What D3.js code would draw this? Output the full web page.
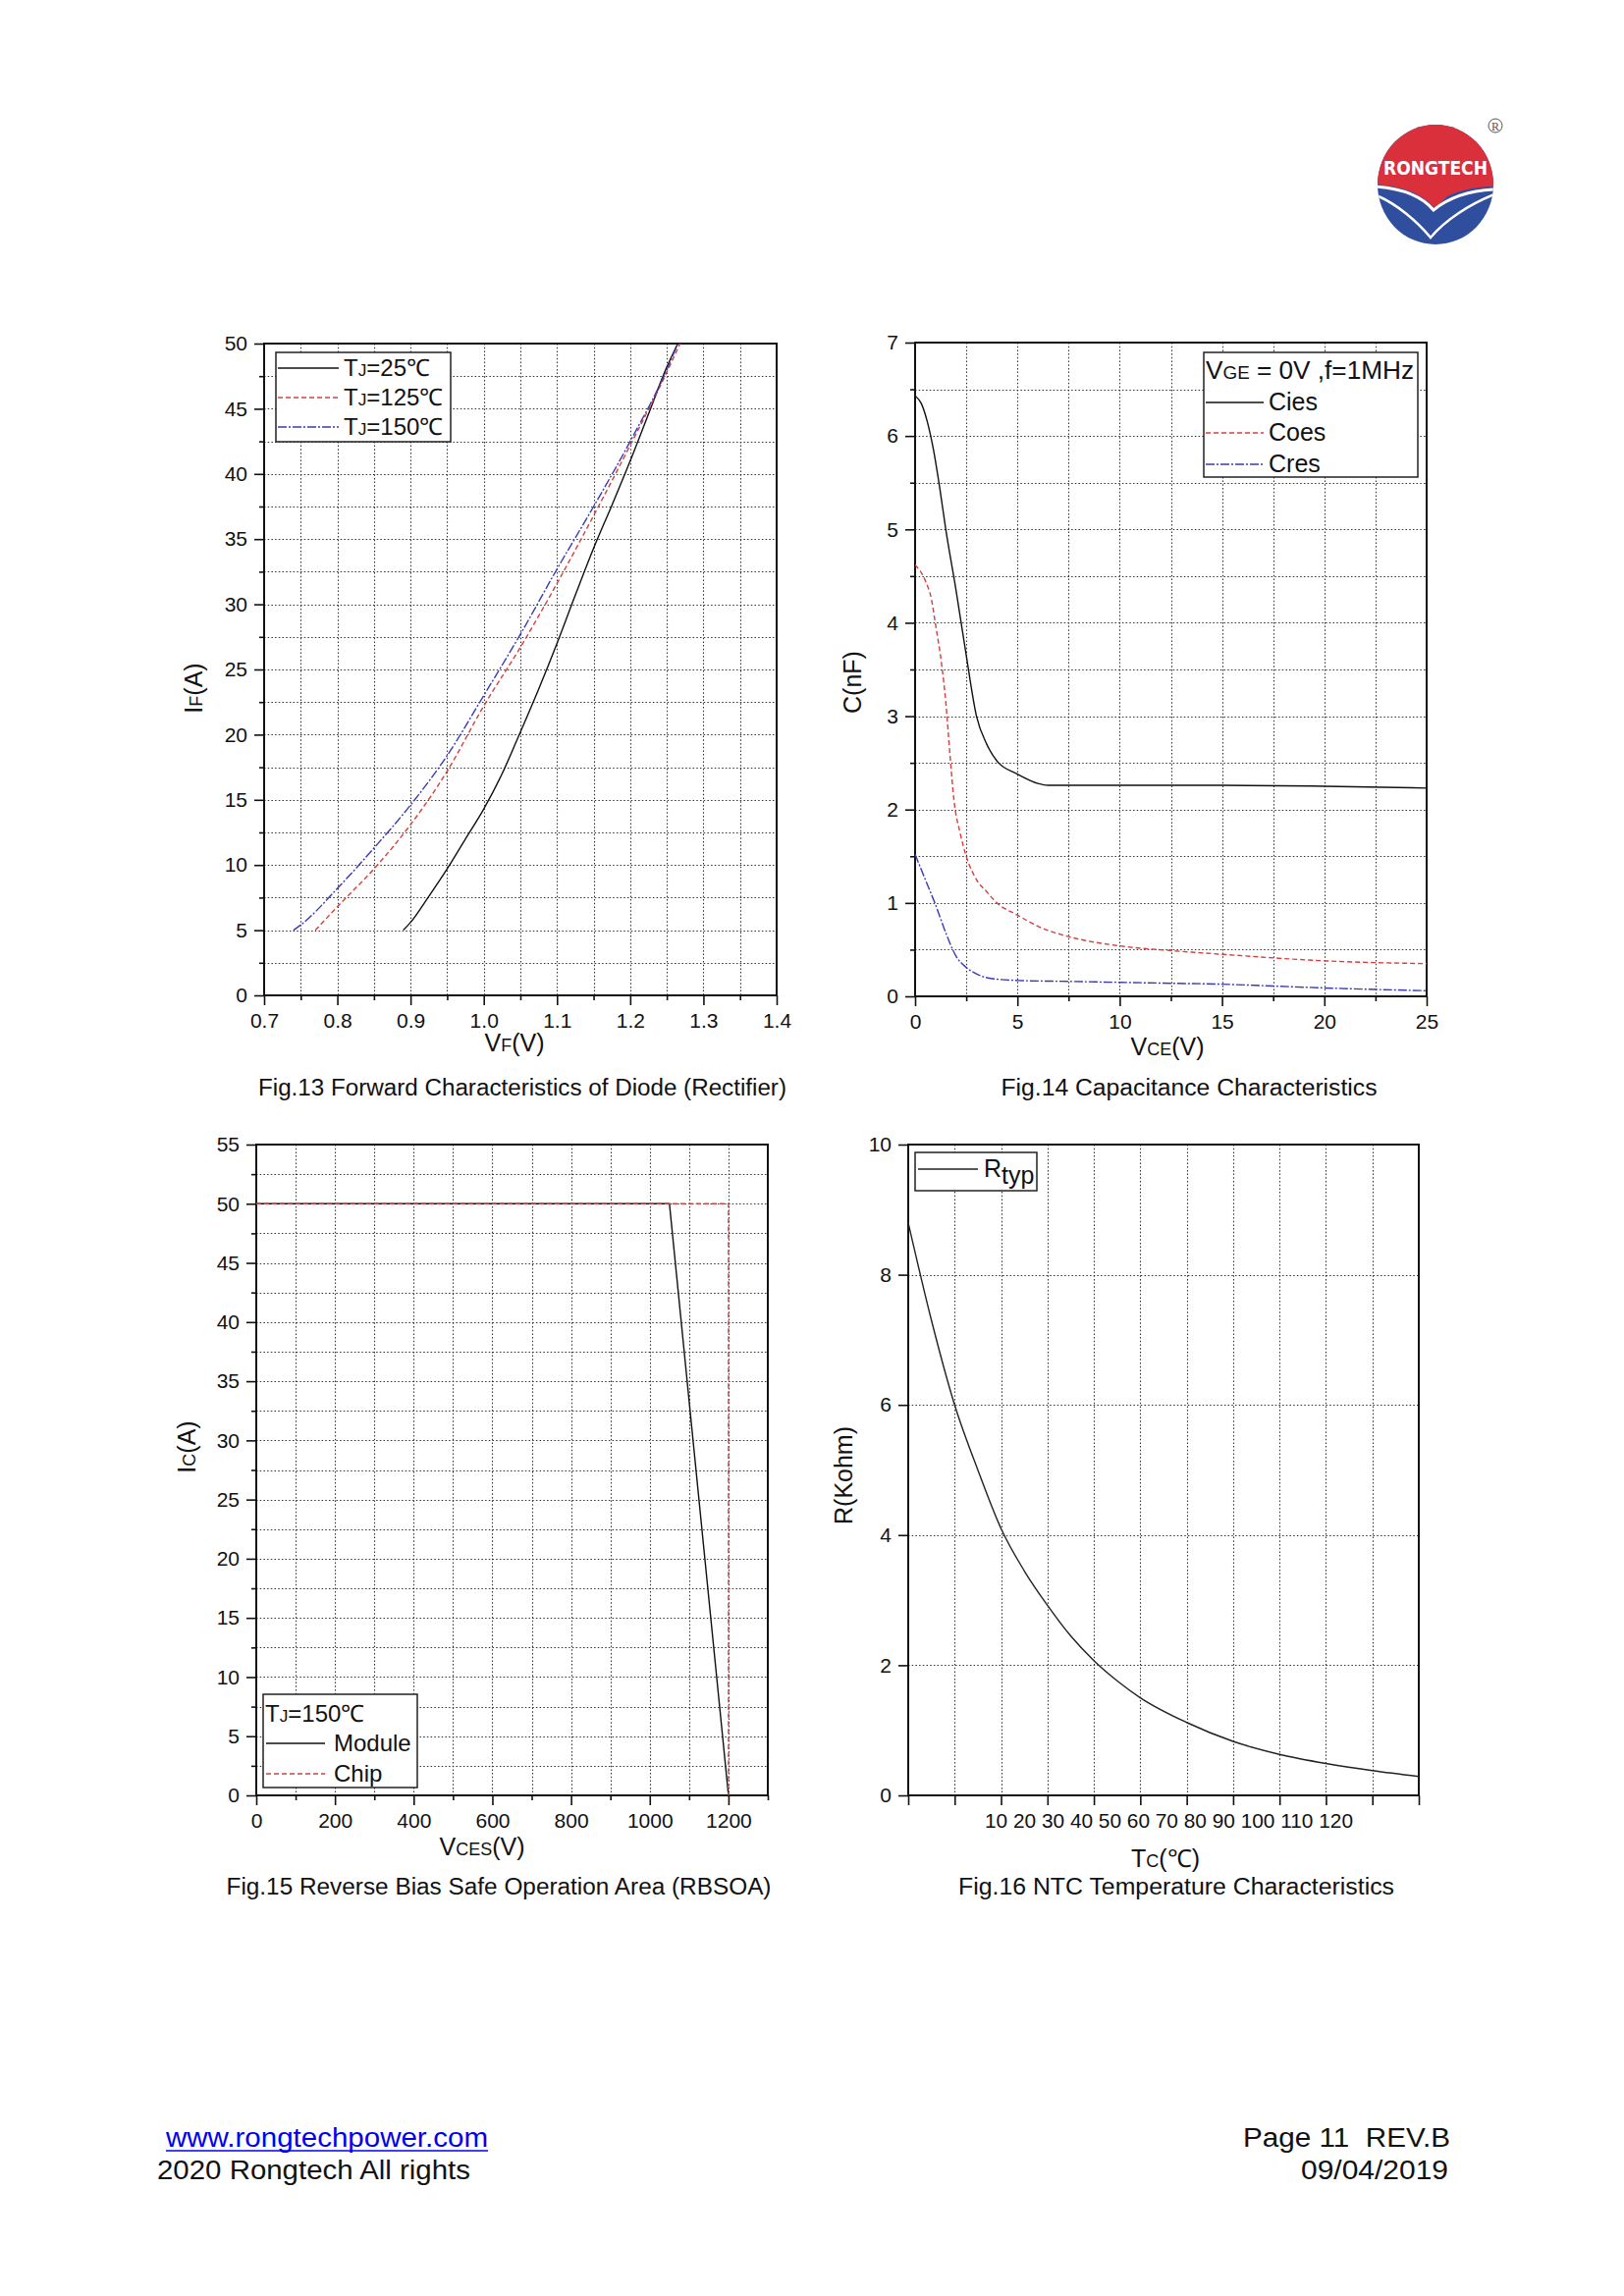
<!DOCTYPE html>
<html><head><meta charset="utf-8">
<script src="https://cdn.jsdelivr.net/npm/d3@7"></script>
<style>body{margin:0;background:#fff}svg{display:block}</style>
</head><body><svg id="page" width="1654" height="2339"></svg>
<script>
// ---------- DATA ----------
// Fig.13 Forward characteristics of diode
const fig13VF25  = [0.89,0.9,0.925,0.95,0.975,1.0,1.025,1.05,1.075,1.1,1.125,1.15,1.175,1.2,1.225,1.25,1.265];
const fig13IF25  = [5,5.6,7.6,9.7,12,14.3,17,20.2,23.5,27,30.7,34.3,37.6,41,44.6,48.2,50];
const fig13VF125 = [0.77,0.8,0.85,0.9,0.95,1.0,1.05,1.1,1.15,1.2,1.25,1.268];
const fig13IF125 = [5,6.8,9.7,13.1,17.2,22.2,26.7,31.6,36.8,42.2,47.8,50];
const fig13VF150 = [0.74,0.75,0.8,0.85,0.9,0.95,1.0,1.05,1.1,1.15,1.2,1.25,1.265];
const fig13IF150 = [5,5.4,8.2,11.3,14.6,18.4,23,27.7,32.7,37.5,42.5,48,50];
const fig13Legend = ["25℃","125℃","150℃"];
const fig13XTicks = [0.7,0.8,0.9,1.0,1.1,1.2,1.3,1.4];
const fig13YTicks = [0,5,10,15,20,25,30,35,40,45,50];

// Fig.14 Capacitance characteristics
const ciesV = [0,0.3,0.6,0.9,1.2,1.5,2,2.5,3,3.5,4,5,6,6.5,10,15,20,25];
const ciesC = [6.43,6.35,6.15,5.85,5.45,5.0,4.35,3.65,3.0,2.7,2.52,2.38,2.28,2.26,2.26,2.26,2.25,2.23];
const coesV = [0,0.5,0.8,1,1.3,1.5,1.7,1.9,2.2,2.5,3,3.5,4,5,6,7.5,10,12.5,15,20,25];
const coesC = [4.62,4.45,4.25,3.98,3.55,3.15,2.6,2.1,1.75,1.5,1.25,1.12,1.0,0.87,0.75,0.64,0.54,0.49,0.45,0.38,0.35];
const cresV = [0,0.5,1,1.5,2,2.5,3,3.5,5,7.5,10,12.5,15,17.5,20,25];
const cresC = [1.52,1.25,0.98,0.68,0.43,0.31,0.24,0.2,0.17,0.16,0.15,0.14,0.13,0.11,0.09,0.06];
const fig14Legend = ["Cies","Coes","Cres"];
const fig14XTicks = [0,5,10,15,20,25];
const fig14YTicks = [0,1,2,3,4,5,6,7];

// Fig.15 RBSOA
const moduleV = [0,1050,1200];
const moduleI = [50,50,0];
const chipV = [0,1200,1200];
const chipI = [50,50,0];
const fig15Legend = ["Module","Chip"];
const fig15XTicks = [0,200,400,600,800,1000,1200];
const fig15YTicks = [0,5,10,15,20,25,30,35,40,45,50,55];

// Fig.16 NTC
const ntcT = [10,15,20,25,30,35,40,45,50,55,60,70,80,90,100,110,120];
const ntcR = [8.8,7.3,6.0,5.0,4.1,3.45,2.92,2.45,2.07,1.76,1.5,1.12,0.83,0.63,0.49,0.38,0.29];
const ntcTickLabels = [10,20,30,40,50,60,70,80,90,100,110,120];
const fig16YTicks = [0,2,4,6,8,10];

// ---------- DRAWING ----------
const FONT = "'Liberation Sans', Arial, Helvetica, sans-serif";
const svg = d3.select("#page").style("font-family", FONT);
svg.append("rect").attr("width",1654).attr("height",2339).attr("fill","#fff");

const RED = "#d4403f", BLUE = "#3a3ab8", BLACK = "#111";
const SOLID = null, DASH = "5,3", DASHDOT = "9,2,2,2";

function rich(text, parts, size) {
  parts.forEach(p => {
    const t = text.append("tspan").text(p.t).attr("font-size", p.s ? size * 0.72 : size);
    if (p.dy) t.attr("dy", p.dy);
  });
  return text;
}
function range(a, b, step) { const r = []; for (let v = a; v <= b + 1e-9; v += step) r.push(+v.toFixed(6)); return r; }

function chart(c) {
  const g = svg.append("g");
  const x = d3.scaleLinear().domain(c.xDom).range([c.L, c.R]);
  const y = d3.scaleLinear().domain(c.yDom).range([c.B, c.T]);
  const eps = 1e-9;
  const xg = c.xGrid.filter(v => v > c.xDom[0] + eps && v < c.xDom[1] - eps);
  const yg = c.yGrid.filter(v => v > c.yDom[0] + eps && v < c.yDom[1] - eps);
  const grid = g.append("g").attr("stroke", "#333").attr("stroke-width", 1.1).attr("stroke-dasharray", "1.5,2.2");
  grid.selectAll(".gx").data(xg).join("line")
    .attr("x1", d => Math.round(x(d)) + 0.5).attr("x2", d => Math.round(x(d)) + 0.5)
    .attr("y1", c.T).attr("y2", c.B);
  grid.selectAll(".gy").data(yg).join("line")
    .attr("y1", d => Math.round(y(d)) + 0.5).attr("y2", d => Math.round(y(d)) + 0.5)
    .attr("x1", c.L).attr("x2", c.R);

  // minor ticks
  if (c.xMinor) {
    const ax = g.append("g").attr("transform", `translate(0,${c.B})`)
      .call(d3.axisBottom(x).tickValues(c.xMinor).tickSize(5).tickFormat(""));
    ax.select(".domain").remove();
  }
  if (c.yMinor) {
    const ay = g.append("g").attr("transform", `translate(${c.L},0)`)
      .call(d3.axisLeft(y).tickValues(c.yMinor).tickSize(5).tickFormat(""));
    ay.select(".domain").remove();
  }
  // major ticks
  const axB = g.append("g").attr("transform", `translate(0,${c.B})`)
    .call(d3.axisBottom(x).tickValues(c.xTicks).tickSize(10).tickPadding(8)
      .tickFormat(c.xFmt ? c.xFmt : () => ""));
  axB.select(".domain").remove();
  axB.selectAll("text").attr("font-size", 21).attr("font-family", FONT).attr("fill", "#111");
  const axL = g.append("g").attr("transform", `translate(${c.L},0)`)
    .call(d3.axisLeft(y).tickValues(c.yTicks).tickSize(10).tickPadding(7).tickFormat(c.yFmt));
  axL.select(".domain").remove();
  axL.selectAll("text").attr("font-size", 21).attr("font-family", FONT).attr("fill", "#111");
  g.selectAll(".tick line").attr("stroke", "#111").attr("stroke-width", 1.6);

  // frame
  g.append("rect").attr("x", c.L).attr("y", c.T).attr("width", c.R - c.L).attr("height", c.B - c.T)
    .attr("fill", "none").attr("stroke", "#111").attr("stroke-width", 2);

  // series
  const clipId = "clip" + Math.round(c.L) + "_" + Math.round(c.T);
  g.append("clipPath").attr("id", clipId).append("rect")
    .attr("x", c.L).attr("y", c.T - 2).attr("width", c.R - c.L).attr("height", c.B - c.T + 4);
  c.series.forEach(s => {
    const pts = s.xs.map((v, i) => [v, s.ys[i]]);
    const line = d3.line().x(d => x(d[0])).y(d => y(d[1])).curve(s.curve || d3.curveLinear);
    g.append("path").attr("d", line(pts)).attr("fill", "none").attr("stroke", s.color)
      .attr("stroke-width", s.w || 1.4).attr("stroke-dasharray", s.dash).attr("clip-path", `url(#${clipId})`);
  });

  // axis titles
  rich(g.append("text").attr("x", c.xt[0]).attr("y", c.xt[1]).attr("text-anchor", "middle").attr("fill", "#111"), c.xTitle, 25);
  rich(g.append("text").attr("transform", `translate(${c.yt[0]},${c.yt[1]}) rotate(-90)`)
    .attr("text-anchor", "middle").attr("fill", "#111"), c.yTitle, 25);
  // caption
  g.append("text").attr("x", c.cap[0]).attr("y", c.cap[1]).attr("text-anchor", "middle")
    .attr("font-size", 23).attr("fill", "#111")
    .attr("textLength", c.capW).attr("lengthAdjust", "spacingAndGlyphs").text(c.caption);

  // legend
  const lg = c.legend;
  const lgG = g.append("g");
  lgG.append("rect").attr("x", lg.x).attr("y", lg.y).attr("width", lg.w).attr("height", lg.h)
    .attr("fill", "#fff").attr("stroke", "#222").attr("stroke-width", 1.5);
  lg.rows.forEach(r => {
    if (r.color) {
      lgG.append("line").attr("x1", lg.lx0).attr("x2", lg.lx1).attr("y1", r.y - 8).attr("y2", r.y - 8)
        .attr("stroke", r.color).attr("stroke-width", 1.4).attr("stroke-dasharray", r.dash);
      rich(lgG.append("text").attr("x", lg.tx).attr("y", r.y).attr("fill", "#111"), r.parts, lg.fs);
    } else {
      const t = rich(lgG.append("text").attr("x", lg.x + 2).attr("y", r.y).attr("fill", "#111"), r.parts, lg.fs);
      if (r.w) t.attr("textLength", r.w).attr("lengthAdjust", "spacingAndGlyphs");
    }
  });
  return {x, y, g};
}

// Fig.13
chart({
  L: 269, R: 791, T: 350, B: 1014,
  xDom: [0.7, 1.4], yDom: [0, 50],
  xTicks: fig13XTicks, yTicks: fig13YTicks,
  xMinor: range(0.75, 1.35, 0.1), yMinor: range(2.5, 47.5, 5),
  xGrid: range(0.7, 1.4, 0.05), yGrid: range(0, 50, 2.5),
  xFmt: d3.format(".1f"), yFmt: d3.format("d"),
  series: [
    {xs: fig13VF25, ys: fig13IF25, color: BLACK, dash: SOLID, curve: d3.curveMonotoneX},
    {xs: fig13VF125, ys: fig13IF125, color: RED, dash: DASH, curve: d3.curveMonotoneX},
    {xs: fig13VF150, ys: fig13IF150, color: BLUE, dash: DASHDOT, curve: d3.curveMonotoneX}
  ],
  xTitle: [{t: "V"}, {t: "F", s: true}, {t: "(V)"}], xt: [524, 1071],
  yTitle: [{t: "I"}, {t: "F", s: true}, {t: "(A)"}], yt: [206, 701],
  caption: "Fig.13 Forward Characteristics of Diode (Rectifier)", cap: [532, 1116], capW: 538,
  legend: {x: 281, y: 359, w: 178, h: 91, lx0: 283, lx1: 345, tx: 350, fs: 24,
    rows: [
      {y: 383, color: BLACK, dash: SOLID, parts: [{t: "T"}, {t: "J", s: true}, {t: "=" + fig13Legend[0]}]},
      {y: 413, color: RED, dash: DASH, parts: [{t: "T"}, {t: "J", s: true}, {t: "=" + fig13Legend[1]}]},
      {y: 443, color: BLUE, dash: DASHDOT, parts: [{t: "T"}, {t: "J", s: true}, {t: "=" + fig13Legend[2]}]}
    ]}
});

// Fig.14
chart({
  L: 932, R: 1453, T: 349, B: 1015,
  xDom: [0, 25], yDom: [0, 7],
  xTicks: fig14XTicks, yTicks: fig14YTicks,
  xMinor: range(2.5, 22.5, 5), yMinor: range(0.5, 6.5, 1),
  xGrid: range(0, 25, 2.5), yGrid: range(0, 7, 0.5),
  xFmt: d3.format("d"), yFmt: d3.format("d"),
  series: [
    {xs: ciesV, ys: ciesC, color: BLACK, dash: SOLID, curve: d3.curveMonotoneX},
    {xs: coesV, ys: coesC, color: RED, dash: DASH, curve: d3.curveMonotoneX},
    {xs: cresV, ys: cresC, color: BLUE, dash: DASHDOT, curve: d3.curveMonotoneX}
  ],
  xTitle: [{t: "V"}, {t: "CE", s: true}, {t: "(V)"}], xt: [1189, 1075],
  yTitle: [{t: "C(nF)"}], yt: [877, 695],
  caption: "Fig.14 Capacitance Characteristics", cap: [1211, 1116], capW: 383,
  legend: {x: 1226, y: 359, w: 218, h: 127, lx0: 1228, lx1: 1287, tx: 1292, fs: 25,
    rows: [
      {y: 386, w: 212, parts: [{t: "V"}, {t: "GE", s: true}, {t: " = 0V ,f=1MHz"}]},
      {y: 418, color: BLACK, dash: SOLID, parts: [{t: fig14Legend[0]}]},
      {y: 449, color: RED, dash: DASH, parts: [{t: fig14Legend[1]}]},
      {y: 481, color: BLUE, dash: DASHDOT, parts: [{t: fig14Legend[2]}]}
    ]}
});

// Fig.15
chart({
  L: 261, R: 782, T: 1166, B: 1829,
  xDom: [0, 1300], yDom: [0, 55],
  xTicks: fig15XTicks, yTicks: fig15YTicks,
  xMinor: range(100, 1300, 200), yMinor: range(2.5, 52.5, 5),
  xGrid: range(0, 1300, 100), yGrid: range(0, 55, 2.5),
  xFmt: d3.format("d"), yFmt: d3.format("d"),
  series: [
    {xs: moduleV, ys: moduleI, color: BLACK, dash: SOLID},
    {xs: chipV, ys: chipI, color: RED, dash: DASH}
  ],
  xTitle: [{t: "V"}, {t: "CES", s: true}, {t: "(V)"}], xt: [491, 1890],
  yTitle: [{t: "I"}, {t: "C", s: true}, {t: "(A)"}], yt: [199, 1474],
  caption: "Fig.15 Reverse Bias Safe Operation Area (RBSOA)", cap: [508, 1930], capW: 555,
  legend: {x: 268, y: 1726, w: 157, h: 95, lx0: 271, lx1: 331, tx: 340, fs: 24,
    rows: [
      {y: 1754, parts: [{t: "T"}, {t: "J", s: true}, {t: "=150℃"}]},
      {y: 1784, color: BLACK, dash: SOLID, parts: [{t: fig15Legend[0]}]},
      {y: 1815, color: RED, dash: DASH, parts: [{t: fig15Legend[1]}]}
    ]}
});

// Fig.16
const c16 = chart({
  L: 925, R: 1445, T: 1166, B: 1829,
  xDom: [10, 120], yDom: [0, 10],
  xTicks: ntcTickLabels, yTicks: fig16YTicks,
  xMinor: null, yMinor: null,
  xGrid: ntcTickLabels, yGrid: fig16YTicks,
  xFmt: null, yFmt: d3.format("d"),
  series: [
    {xs: ntcT, ys: ntcR, color: "#222", dash: SOLID, curve: d3.curveMonotoneX}
  ],
  xTitle: [{t: "T"}, {t: "C", s: true}, {t: "(℃)"}], xt: [1187, 1902],
  yTitle: [{t: "R(Kohm)"}], yt: [868, 1503],
  caption: "Fig.16 NTC Temperature Characteristics", cap: [1198, 1930], capW: 444,
  legend: {x: 932, y: 1174, w: 124, h: 39, lx0: 935, lx1: 996, tx: 1002, fs: 25,
    rows: [
      {y: 1199, color: "#222", dash: SOLID, parts: [{t: "R"}, {t: "typ", dy: 7}]}
    ]}
});
// Fig.16 tick-label row (printed as a text strip under the axis)
c16.g.append("text").attr("x", 1003).attr("y", 1862).attr("font-size", 21).attr("fill", "#111")
  .attr("textLength", 375).attr("lengthAdjust", "spacingAndGlyphs")
  .text(ntcTickLabels.join(" "));

// ---------- LOGO ----------
const logo = svg.append("g").attr("transform", "translate(1462,188)");
logo.append("clipPath").attr("id", "logoClip").append("ellipse").attr("rx", 59).attr("ry", 61);
const lc = logo.append("g").attr("clip-path", "url(#logoClip)");
lc.append("rect").attr("x", -62).attr("y", -62).attr("width", 124).attr("height", 124).attr("fill", "#2f4f9e");
lc.append("path").attr("d", "M-62,-64 H62 V2 C40,2 25,6 12,12 C8,16 3,22 -2,23 C-10,14 -25,2 -62,0 Z").attr("fill", "#d9303c");
lc.append("path").attr("d", "M-62,2 C-30,4 -12,14 -2,26 C8,18 28,6 62,5").attr("fill", "none").attr("stroke", "#fff").attr("stroke-width", 3);
lc.append("path").attr("d", "M-58,12 C-40,20 -20,36 -5,54 C10,36 35,20 60,10").attr("fill", "none").attr("stroke", "#fff").attr("stroke-width", 2.5);
logo.append("text").attr("x", 0).attr("y", -10).attr("text-anchor", "middle").attr("font-size", 20)
  .attr("font-weight", "bold").attr("fill", "#fff").attr("textLength", 106).attr("lengthAdjust", "spacingAndGlyphs")
  .attr("font-family", "'DejaVu Sans Condensed', 'Liberation Sans Narrow', sans-serif").text("RONGTECH");
logo.append("circle").attr("cx", 61).attr("cy", -60).attr("r", 7).attr("fill", "none").attr("stroke", "#555").attr("stroke-width", 1);
logo.append("text").attr("x", 61).attr("y", -55.5).attr("text-anchor", "middle").attr("font-size", 12)
  .attr("fill", "#555").attr("font-family", "'Liberation Serif', serif").text("R");

// ---------- FOOTER ----------
const NARROW = "'Liberation Sans Narrow', 'Arial Narrow', 'Liberation Sans', sans-serif";
svg.append("text").attr("x", 169).attr("y", 2187).attr("font-size", 27).attr("font-family", NARROW)
  .attr("fill", "#0000ee").attr("textLength", 328).attr("lengthAdjust", "spacingAndGlyphs").text("www.rongtechpower.com");
svg.append("line").attr("x1", 169).attr("x2", 497).attr("y1", 2191).attr("y2", 2191).attr("stroke", "#0000ee").attr("stroke-width", 1.5);
svg.append("text").attr("x", 160).attr("y", 2220).attr("font-size", 27).attr("font-family", NARROW)
  .attr("fill", "#111").attr("textLength", 319).attr("lengthAdjust", "spacingAndGlyphs").text("2020 Rongtech All rights");
svg.append("text").attr("x", 1266).attr("y", 2187).attr("font-size", 27).attr("font-family", NARROW)
  .style("white-space", "pre")
  .attr("fill", "#111").attr("textLength", 211).attr("lengthAdjust", "spacingAndGlyphs").text("Page 11  REV.B");
svg.append("text").attr("x", 1325).attr("y", 2220).attr("font-size", 27).attr("font-family", NARROW)
  .attr("fill", "#111").attr("textLength", 150).attr("lengthAdjust", "spacingAndGlyphs").text("09/04/2019");
</script></body></html>
